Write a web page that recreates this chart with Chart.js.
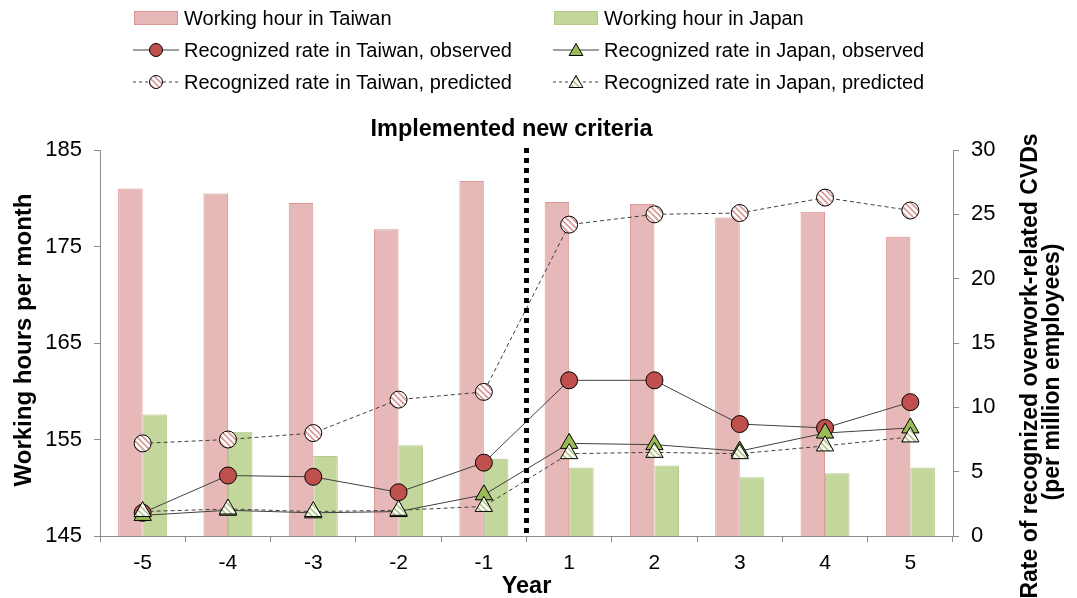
<!DOCTYPE html>
<html>
<head>
<meta charset="utf-8">
<script src="https://cdn.jsdelivr.net/npm/chart.js@4.4.1/dist/chart.umd.min.js"></script>
<style>
  html, body { margin: 0; padding: 0; background: #fff; }
  #wrap { width: 1077px; height: 598px; }
</style>
</head>
<body>
<div id="wrap"><canvas id="chart"></canvas></div>
<script>
const years = ['-5', '-4', '-3', '-2', '-1', '1', '2', '3', '4', '5'];
const hoursTaiwan = [181.0, 180.5, 179.5, 176.8, 181.8, 179.6, 179.4, 178.0, 178.6, 176.0];
const hoursJapan = [157.6, 155.8, 153.3, 154.4, 153.0, 152.1, 152.3, 151.1, 151.5, 152.1];
const rateTaiwanObs = [1.8, 4.7, 4.6, 3.4, 5.7, 12.1, 12.1, 8.7, 8.4, 10.4];
const rateTaiwanPred = [7.2, 7.5, 8.0, 10.6, 11.2, 24.2, 25.0, 25.1, 26.3, 25.3];
const rateJapanObs = [1.6, 2.0, 1.8, 1.9, 3.2, 7.2, 7.1, 6.6, 8.0, 8.4];
const rateJapanPred = [1.9, 2.1, 1.9, 2.0, 2.3, 6.4, 6.5, 6.4, 7.0, 7.7];
const leftTicks = [145, 155, 165, 175, 185];
const rightTicks = [0, 5, 10, 15, 20, 25, 30];

const FONT = '"Liberation Sans", Arial, sans-serif';
const pink = '#e6b9b8', pinkEdge = '#d99694';
const green = '#c3d69b', greenEdge = '#b3c98a';
const red = '#c0504d', olive = '#9bbb59';

const canvas = document.getElementById('chart');
const ctx = canvas.getContext('2d');

// diagonal hatch fills for the "predicted" markers
function hatch(bg, fg) {
  const c = document.createElement('canvas');
  c.width = 6; c.height = 6;
  const g = c.getContext('2d');
  g.fillStyle = bg;
  g.fillRect(0, 0, 6, 6);
  g.strokeStyle = fg;
  g.lineWidth = 1.6;
  g.beginPath();
  g.moveTo(-3, 3); g.lineTo(3, 9);
  g.moveTo(0, 0); g.lineTo(6, 6);
  g.moveTo(3, -3); g.lineTo(9, 3);
  g.stroke();
  return ctx.createPattern(c, 'repeat');
}
const pinkHatch = hatch('#ffffff', '#d99694');
const greenHatch = hatch('#ffffff', '#b3c98a');

function lineSet(label, data, fill, style, dashed, order) {
  return {
    type: 'line', label, data, yAxisID: 'y1', order,
    borderColor: '#404040', borderWidth: 1, borderDash: dashed ? [4, 3] : [],
    pointStyle: style, pointRadius: style === 'triangle' ? 10 : 8.5,
    pointBackgroundColor: fill, pointBorderColor: '#000', pointBorderWidth: 1,
    tension: 0, fill: false
  };
}

function drawMarker(c, style, x, y, r, fill) {
  c.beginPath();
  if (style === 'circle') {
    c.arc(x, y, r, 0, Math.PI * 2);
  } else {
    c.moveTo(x, y - r);
    c.lineTo(x + r * 0.866, y + r / 2);
    c.lineTo(x - r * 0.866, y + r / 2);
    c.closePath();
  }
  c.fillStyle = fill;
  c.fill();
  c.strokeStyle = '#000';
  c.lineWidth = 1;
  c.stroke();
}

const legendItems = [
  { text: 'Working hour in Taiwan', bar: pink, edge: pinkEdge, col: 0, row: 0 },
  { text: 'Working hour in Japan', bar: green, edge: greenEdge, col: 1, row: 0 },
  { text: 'Recognized rate in Taiwan, observed', style: 'circle', fill: red, dash: false, col: 0, row: 1 },
  { text: 'Recognized rate in Japan, observed', style: 'triangle', fill: olive, dash: false, col: 1, row: 1 },
  { text: 'Recognized rate in Taiwan, predicted', style: 'circle', fill: pinkHatch, dash: true, col: 0, row: 2 },
  { text: 'Recognized rate in Japan, predicted', style: 'triangle', fill: greenHatch, dash: true, col: 1, row: 2 }
];

const overlay = {
  id: 'overlay',
  afterDatasetsDraw(chart) {
    const c = chart.ctx, a = chart.chartArea, xs = chart.scales.x;
    const xLine = (xs.getPixelForValue(4) + xs.getPixelForValue(5)) / 2;
    c.save();
    c.strokeStyle = '#000';
    c.lineWidth = 5;
    c.setLineDash([5, 5]);
    c.beginPath();
    c.moveTo(xLine, a.top - 2);
    c.lineTo(xLine, a.bottom);
    c.stroke();
    c.restore();
  },
  afterDraw(chart) {
    const c = chart.ctx, a = chart.chartArea, xs = chart.scales.x;
    const xLine = (xs.getPixelForValue(4) + xs.getPixelForValue(5)) / 2;
    c.save();
    c.fillStyle = '#000';
    c.textAlign = 'center';
    c.textBaseline = 'middle';
    c.font = 'bold 23.5px ' + FONT;
    c.fillText('Implemented new criteria', xLine - 15, 130);
    c.fillText('Year', (a.left + a.right) / 2, 587);

    c.font = 'bold 24px ' + FONT;
    c.save();
    c.translate(24, 340);
    c.rotate(-Math.PI / 2);
    c.fillText('Working hours per month', 0, 0);
    c.restore();

    c.font = 'bold 23px ' + FONT;
    c.save();
    c.translate(1031, 366);
    c.rotate(-Math.PI / 2);
    c.fillText('Rate of recognized overwork-related CVDs', 0, 0);
    c.restore();
    c.save();
    c.translate(1053, 372);
    c.rotate(-Math.PI / 2);
    c.fillText('(per million employees)', 0, 0);
    c.restore();

    // legend
    c.font = '20px ' + FONT;
    c.textAlign = 'left';
    legendItems.forEach(it => {
      const x0 = it.col === 0 ? 133 : 553;
      const y = 18 + it.row * 32;
      if (it.bar) {
        c.fillStyle = it.bar;
        c.fillRect(x0 + 1, y - 7, 44, 14);
        c.strokeStyle = it.edge;
        c.lineWidth = 1;
        c.strokeRect(x0 + 1.5, y - 6.5, 43, 13);
      } else {
        c.strokeStyle = '#404040';
        c.lineWidth = 1;
        c.setLineDash(it.dash ? [3, 3] : []);
        c.beginPath();
        c.moveTo(x0, y);
        c.lineTo(x0 + 46, y);
        c.stroke();
        c.setLineDash([]);
        drawMarker(c, it.style, x0 + 23, y + (it.style === 'triangle' ? 1.5 : 0), it.style === 'triangle' ? 8 : 6.5, it.fill);
      }
      c.fillStyle = '#000';
      c.fillText(it.text, x0 + 51, y + 1);
    });
    c.restore();
  }
};

const axisGrid = { display: true, drawOnChartArea: false, tickLength: 6, color: '#8c8c8c' };

new Chart(ctx, {
  type: 'bar',
  data: {
    labels: years,
    datasets: [
      lineSet('Recognized rate in Japan, predicted', rateJapanPred, greenHatch, 'triangle', true, 1),
      lineSet('Recognized rate in Japan, observed', rateJapanObs, olive, 'triangle', false, 2),
      lineSet('Recognized rate in Taiwan, predicted', rateTaiwanPred, pinkHatch, 'circle', true, 3),
      lineSet('Recognized rate in Taiwan, observed', rateTaiwanObs, red, 'circle', false, 4),
      {
        label: 'Working hour in Taiwan', data: hoursTaiwan, yAxisID: 'y', order: 10,
        backgroundColor: pink, borderColor: pinkEdge, borderWidth: 1,
        categoryPercentage: 0.575, barPercentage: 1.0
      },
      {
        label: 'Working hour in Japan', data: hoursJapan, yAxisID: 'y', order: 10,
        backgroundColor: green, borderColor: greenEdge, borderWidth: 1,
        categoryPercentage: 0.575, barPercentage: 1.0
      }
    ]
  },
  options: {
    responsive: true,
    maintainAspectRatio: false,
    animation: false,
    layout: { padding: { top: 150, left: 0, right: 0, bottom: 0 } },
    plugins: { legend: { display: false }, tooltip: { enabled: false } },
    scales: {
      x: {
        offset: true,
        grid: { ...axisGrid, offset: true },
        border: { color: '#8c8c8c', width: 1 },
        ticks: { color: '#000', font: { size: 21, family: FONT }, padding: 9, maxRotation: 0 },
        afterFit: s => { s.height = 62; }
      },
      y: {
        position: 'left', min: 145, max: 185,
        afterBuildTicks: s => { s.ticks = leftTicks.map(v => ({ value: v })); },
        grid: axisGrid,
        border: { color: '#8c8c8c', width: 1 },
        ticks: { color: '#000', font: { size: 22, family: FONT }, padding: 12 },
        afterFit: s => { s.width = 100; }
      },
      y1: {
        position: 'right', min: 0, max: 30,
        afterBuildTicks: s => { s.ticks = rightTicks.map(v => ({ value: v })); },
        grid: axisGrid,
        border: { color: '#8c8c8c', width: 1 },
        ticks: { color: '#000', font: { size: 22, family: FONT }, padding: 12 },
        afterFit: s => { s.width = 124; }
      }
    }
  },
  plugins: [overlay]
});
</script>
</body>
</html>
